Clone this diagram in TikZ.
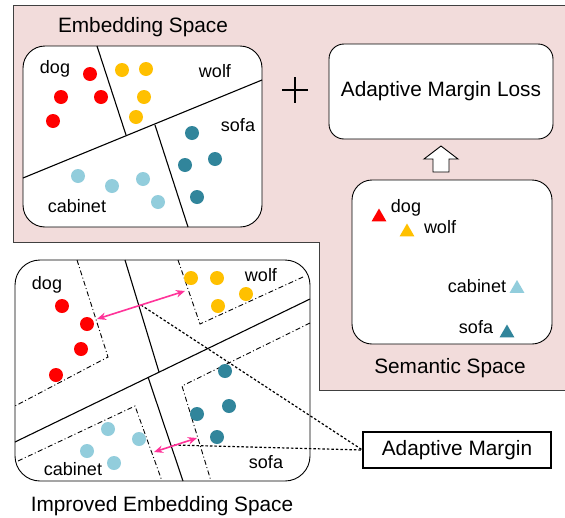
\documentclass[tikz,border=0pt]{standalone}
\usepackage{fontspec}
\setmainfont{Liberation Sans}
\usetikzlibrary{arrows.meta, shapes.geometric}
\definecolor{pinkbg}{RGB}{242,220,219}
\definecolor{dogred}{RGB}{255,0,0}
\definecolor{wolfyellow}{RGB}{255,192,0}
\definecolor{sofateal}{RGB}{49,133,155}
\definecolor{cabblue}{RGB}{146,205,220}
\definecolor{marginpink}{RGB}{255,51,153}
\tikzset{
    x=1pt, y=-1pt, % one unit is one pixel of the sketch, y grows downwards
    spacebox/.style={draw, fill=white, line width=0.9pt, inner sep=0pt}, % the rounded panels
    dot/.style={circle, inner sep=0pt, minimum size=14pt}, % one embedded sample
    tri/.style={regular polygon, regular polygon sides=3, inner sep=0pt, minimum size=17pt}, % one class in semantic space
    lbl/.style={font=\fontsize{18}{20}\selectfont, anchor=base, inner sep=0pt}, % class names
    title/.style={font=\fontsize{20.8}{24}\selectfont, anchor=base, inner sep=0pt}, % panel titles
    boundary/.style={line width=1.1pt}, % decision boundaries
    marginline/.style={line width=0.9pt, dash pattern=on 5pt off 2.5pt on 1pt off 2.5pt}, % class margins
    pointer/.style={line width=1.2pt, dash pattern=on 2.5pt off 2pt}, % to the callout
    gap/.style={<->, >={Stealth[length=9pt, width=7.5pt]}, line width=1.6pt, draw=marginpink}, % adaptive margin
}
\begin{document}
\begin{tikzpicture}
    \useasboundingbox (0,0) rectangle (565,517);

    % pink background
    \draw[line width=0.9pt, draw=black!75, fill=pinkbg]
        (13,5) -- (575,5) -- (575,390) -- (319,390) -- (319,242) -- (13,242) -- cycle;

    % embedding space
    \node[title] (embtitle) at (143,32) {Embedding Space};
    \node[spacebox, rounded corners=22pt, minimum width=239pt, minimum height=181pt] (emb) at (142.5,136.5) {};
    \draw[boundary] (97,46) -- (126,135);
    \draw[boundary] (23,178) -- (262,80);
    \draw[boundary] (155,125) -- (188,227);
    \foreach \px/\py [count=\i] in {90/74, 61/97, 101/97, 53/121}
        \node[dot, fill=dogred] (embdog\i) at (\px,\py) {};
    \foreach \px/\py [count=\i] in {122/70, 146/69, 144/97, 136/117}
        \node[dot, fill=wolfyellow] (embwolf\i) at (\px,\py) {};
    \foreach \px/\py [count=\i] in {192/133, 185/165, 215/159, 197/197}
        \node[dot, fill=sofateal] (embsofa\i) at (\px,\py) {};
    \foreach \px/\py [count=\i] in {78/176, 112/186, 143/179, 158/202}
        \node[dot, fill=cabblue] (embcab\i) at (\px,\py) {};
    \node[lbl] (embdogl) at (55,73) {dog};
    \node[lbl] (embwolfl) at (215,77) {wolf};
    \node[lbl] (embsofal) at (238,131) {sofa};
    \node[lbl] (embcabl) at (77,212) {cabinet};

    \draw[line width=2.6pt] (282,90) -- (308,90) (295,77) -- (295,103);

    % loss and semantic space
    \node[spacebox, rounded corners=15pt, minimum width=224pt, minimum height=95pt,
          font=\fontsize{20.8}{24}\selectfont] (loss) at (441,91.5) {Adaptive Margin Loss};
    \node[spacebox, rounded corners=20pt, minimum width=200pt, minimum height=164pt] (sem) at (452,262) {};
    \draw[line width=0.9pt, fill=white]
        (433,172) -- (433,159) -- (424,159) -- (441,146) -- (458,159) -- (449,159) -- (449,172) -- cycle;
    \node[tri, fill=dogred] (semdog) at (379,217) {};
    \node[tri, fill=wolfyellow] (semwolf) at (407,232) {};
    \node[tri, fill=cabblue] (semcab) at (517,288.5) {};
    \node[tri, fill=sofateal] (semsofa) at (507,333) {};
    \node[lbl] (semdogl) at (406,212) {dog};
    \node[lbl] (semwolfl) at (440,233) {wolf};
    \node[lbl] (semcabl) at (477,292) {cabinet};
    \node[lbl] (semsofal) at (476,333) {sofa};
    \node[title] (semtitle) at (450,373) {Semantic Space};

    % improved embedding space
    \node[spacebox, rounded corners=25pt, minimum width=295pt, minimum height=221pt] (imp) at (162.5,370.5) {};
    \draw[boundary] (125,260) -- (159,372);
    \draw[boundary] (148,377) -- (183,481);
    \draw[boundary] (15,442) -- (310,299);
    \draw[marginline] (77,260) -- (108,357) -- (15,406);
    \draw[marginline] (178,260) -- (200,324) -- (303,277);
    \draw[marginline] (310,323) -- (182,386) -- (211,481);
    \draw[marginline] (18,461) -- (135,406) -- (162,481);
    \foreach \px/\py [count=\i] in {62/306, 87/324, 81/349, 56/375}
        \node[dot, fill=dogred] (impdog\i) at (\px,\py) {};
    \foreach \px/\py [count=\i] in {191/278, 217/278, 246/294, 218/306}
        \node[dot, fill=wolfyellow] (impwolf\i) at (\px,\py) {};
    \foreach \px/\py [count=\i] in {225/371, 229/406, 197/414, 217/437}
        \node[dot, fill=sofateal] (impsofa\i) at (\px,\py) {};
    \foreach \px/\py [count=\i] in {108/429, 139/439, 87/451, 114/463}
        \node[dot, fill=cabblue] (impcab\i) at (\px,\py) {};
    \node[lbl] (impdogl) at (47,289.5) {dog};
    \node[lbl] (impwolfl) at (261,281.5) {wolf};
    \node[lbl] (impcabl) at (73,475) {cabinet};
    \node[lbl] (impsofal) at (266,468) {sofa};
    \node[title] (imptitle) at (162,511.5) {Improved Embedding Space};

    % margins and callout
    \coordinate (gapdog) at (97,319);
    \coordinate (gapwolf) at (185,291);
    \coordinate (gapcab) at (154,452);
    \coordinate (gapsofa) at (197,438);
    \coordinate (midtop) at (141,305);
    \coordinate (midbot) at (174,445);
    \node[draw, line width=1.1pt, minimum width=188pt, minimum height=36pt,
          font=\fontsize{20.8}{24}\selectfont] (margin) at (457,450) {Adaptive Margin};
    \draw[pointer] (midtop) -- (margin.west);
    \draw[pointer] (midbot) -- (margin.west);
    \draw[gap] (gapdog) -- (gapwolf);
    \draw[gap] (gapcab) -- (gapsofa);
\end{tikzpicture}
\end{document}
